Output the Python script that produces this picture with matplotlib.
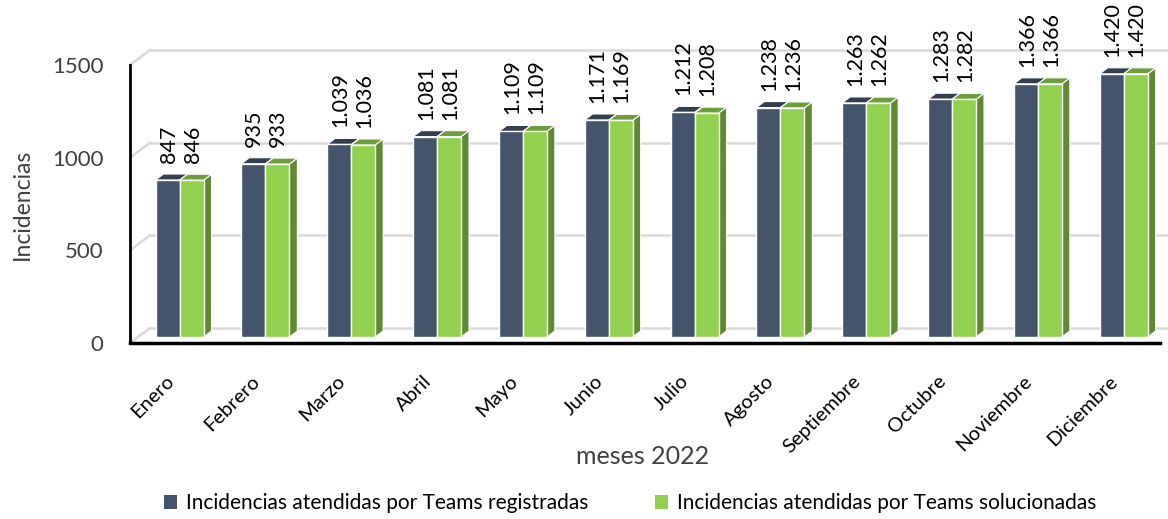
import matplotlib
matplotlib.use("Agg")
import matplotlib.pyplot as plt
from matplotlib.patches import Polygon, Rectangle
from matplotlib.lines import Line2D
from matplotlib import font_manager as fm

# ---------------- data ----------------
months = ["Enero", "Febrero", "Marzo", "Abril", "Mayo", "Junio", "Julio",
          "Agosto", "Septiembre", "Octubre", "Noviembre", "Diciembre"]
registradas = [847, 935, 1039, 1081, 1109, 1171, 1212, 1238, 1263, 1283, 1366, 1420]
solucionadas = [846, 933, 1036, 1081, 1109, 1169, 1208, 1236, 1262, 1282, 1366, 1420]
series_names = ["Incidencias atendidas por Teams registradas",
                "Incidencias atendidas por Teams solucionadas"]
y_ticks = [0, 500, 1000, 1500]
x_title = "meses 2022"
y_title = "Incidencias"

# ---------------- style ----------------
names = {f.name for f in fm.fontManager.ttflist}
FONT = "Lato" if "Lato" in names else "DejaVu Sans"
plt.rcParams["font.family"] = [FONT, "DejaVu Sans"]
TXT = "#404040"

dark_front, dark_top, dark_side = "#44546A", "#333F50", "#2E3A4A"
green_front, green_top, green_side = "#92D050", "#6E9E3C", "#5E8A30"
grid_c = "#D9D9D9"

W, H, DPI = 1168, 519, 100
fig = plt.figure(figsize=(W / DPI, H / DPI), dpi=DPI)
fig.patch.set_facecolor("white")

ax_l, ax_b, ax_r, ax_t = 130, 343, 1160, 65   # pixels (top-left origin)
ax = fig.add_axes([ax_l / W, 1 - ax_b / H, (ax_r - ax_l) / W, (ax_b - ax_t) / H])
n = len(months)
ax.set_xlim(-0.5, n - 0.5)
ax.set_ylim(0, 1500)

ux = (ax_r - ax_l) / n          # px per x unit
uy = (ax_b - ax_t) / 1500.0     # px per y unit
def px_x(p): return p / ux
def px_y(p): return p / uy

# back wall grid (3D look)
wall_dx, wall_dy = px_x(20), px_y(15)
x0 = -0.5
x_end = x0 + px_x(W - ax_l)
for v in y_ticks:
    ax.add_line(Line2D([x0, x0 + wall_dx], [v, v + wall_dy], color=grid_c, lw=1.8,
                       clip_on=False, zorder=0))
    ax.add_line(Line2D([x0 + wall_dx, x_end], [v + wall_dy, v + wall_dy], color=grid_c,
                       lw=1.8, clip_on=False, zorder=0))

# bars
bw = px_x(24)
shift = px_x(6.6)
base = px_y(6)
ddx, ddy = px_x(8), px_y(6)

def bar3d(left, val, front, top, side, z):
    right = left + bw
    t = base + val
    ax.add_patch(Polygon([(right, base), (right, t), (right + ddx, t + ddy),
                          (right + ddx, base + ddy)], closed=True, fc=side,
                         ec="white", lw=0.8, zorder=z, clip_on=False))
    ax.add_patch(Polygon([(left, t), (right, t), (right + ddx, t + ddy),
                          (left + ddx, t + ddy)], closed=True, fc=top,
                         ec="white", lw=0.8, zorder=z, clip_on=False))
    ax.add_patch(Rectangle((left, base), bw, val, fc=front, ec="white", lw=1.0,
                           zorder=z + 0.5, clip_on=False))

def fmt(v):
    return f"{v:,}".replace(",", ".")

for i in range(n):
    l1 = i + shift - bw
    l2 = i + shift
    bar3d(l1, registradas[i], dark_front, dark_top, dark_side, 2)
    bar3d(l2, solucionadas[i], green_front, green_top, green_side, 3)
    for l, v in ((l1, registradas[i]), (l2, solucionadas[i])):
        ax.annotate(fmt(v), xy=(l + bw / 2 + px_x(1), base + v), xytext=(0, 17),
                    textcoords="offset pixels", rotation=90, ha="center", va="bottom",
                    fontsize=15.5, color="black", annotation_clip=False, zorder=6)

# axes styling
for s in ("top", "right"):
    ax.spines[s].set_visible(False)
ax.spines["left"].set_linewidth(2)
ax.spines["bottom"].set_linewidth(2.5)
ax.spines["left"].set_color("black")
ax.spines["bottom"].set_color("black")
ax.set_facecolor("none")
ax.set_yticks(y_ticks)
ax.set_yticklabels([str(v) for v in y_ticks], fontsize=16, color=TXT)
ax.tick_params(axis="y", length=0, pad=19)
ax.set_xticks([i + px_x(4) for i in range(n)])
ax.set_xticklabels(months, rotation=45, ha="right", va="top", fontsize=14.5, color="black")
ax.tick_params(axis="x", length=0, pad=21)

fig.text(643 / W, 1 - 457 / H, x_title, ha="center", va="center", fontsize=18, color=TXT)
fig.text(22 / W, 1 - 204 / H, y_title, ha="center", va="center", rotation=90,
         fontsize=16.5, color=TXT)

handles = [Rectangle((0, 0), 1, 1, fc=dark_front), Rectangle((0, 0), 1, 1, fc=green_front)]
fig.legend(handles, series_names, loc="center", bbox_to_anchor=(630 / W, 1 - 503 / H),
           ncol=2, frameon=False, fontsize=15, handlelength=0.65, handleheight=0.65,
           handletextpad=0.4, columnspacing=3.2, labelcolor="black")

fig.savefig("out.png", dpi=DPI, facecolor="white")
